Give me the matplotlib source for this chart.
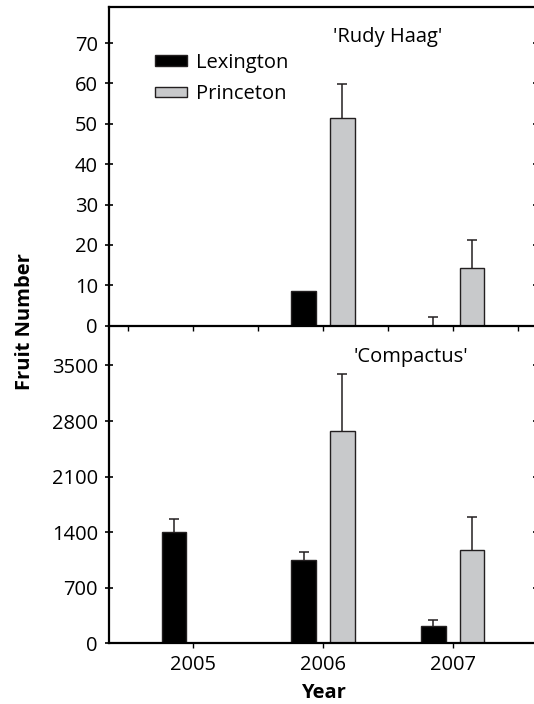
import numpy as np
import matplotlib
matplotlib.use("Agg")
import matplotlib.pyplot as plt

# ---- data ----
years = ["2005", "2006", "2007"]
sites = ["Lexington", "Princeton"]

rudy_lex = [0, 8.6, 0]
rudy_lex_err = [np.nan, np.nan, 2.2]
rudy_pri = [0, 51.5, 14.2]
rudy_pri_err = [np.nan, 8.4, 7.1]

comp_lex = [1405, 1049, 222]
comp_lex_err = [164, 97, 71]
comp_pri = [0, 2673, 1178]
comp_pri_err = [np.nan, 721, 412]

rudy_ticks = [0, 10, 20, 30, 40, 50, 60, 70]
comp_ticks = [0, 700, 1400, 2100, 2800, 3500]

FS = 14.5
plt.rcParams["font.family"] = ["Open Sans", "DejaVu Sans"]
plt.rcParams["font.size"] = FS

LEX_COLOR = "#000000"
PRI_COLOR = "#c8c9cb"
EDGE = "#231f20"
BAR_W = 0.19
OFFSET = 0.15


def draw_panel(ax, lex, lex_err, pri, pri_err):
    x = np.arange(len(years))
    ax.bar(x - OFFSET, lex, BAR_W, color=LEX_COLOR, edgecolor=EDGE,
           linewidth=1.0, label=sites[0], zorder=2)
    ax.bar(x + OFFSET, pri, BAR_W, color=PRI_COLOR, edgecolor=EDGE,
           linewidth=1.0, label=sites[1], zorder=2)
    for xs, vals, errs in [(x - OFFSET, lex, lex_err), (x + OFFSET, pri, pri_err)]:
        errs = np.asarray(errs, dtype=float)
        cont = ax.errorbar(xs, vals, yerr=[np.zeros_like(errs), errs], fmt="none",
                           ecolor=EDGE, elinewidth=1.1, capsize=3.4,
                           capthick=1.1, zorder=1)
        cont[1][0].set_visible(False)  # one-sided bars: hide lower caps
    ax.set_xlim(-0.65, 2.65)
    for side in ["left", "right", "top", "bottom"]:
        ax.spines[side].set_linewidth(1.6)
    ax.tick_params(axis="y", which="both", direction="inout", length=6,
                   width=1.2, pad=5, right=True, labelsize=FS)


fig = plt.figure(figsize=(5.34, 7.04), dpi=100)
ax_bot = fig.add_axes([0.2041, 0.0862, 0.8015, 0.4511])
ax_top = fig.add_axes([0.2041, 0.5374, 0.8015, 0.4531])
ax_bot.patch.set_visible(False)

# top panel: 'Rudy Haag'
draw_panel(ax_top, rudy_lex, rudy_lex_err, rudy_pri, rudy_pri_err)
ax_top.set_ylim(0, 79)
ax_top.set_yticks(rudy_ticks)
ax_top.set_xticks(np.arange(-0.5, 2.51, 0.5))
ax_top.tick_params(axis="x", direction="out", length=3.5, width=1.0,
                   labelbottom=False)
ax_top.text(1.5, 71.6, "'Rudy Haag'", ha="center", va="center", fontsize=FS)
ax_top.legend(loc="upper left", bbox_to_anchor=(0.088, 0.88), frameon=False,
              handlelength=1.6, handleheight=0.45, handletextpad=0.45,
              labelspacing=0.55, fontsize=FS, borderaxespad=0)

# bottom panel: 'Compactus'
draw_panel(ax_bot, comp_lex, comp_lex_err, comp_pri, comp_pri_err)
ax_bot.set_ylim(0, 4000)
ax_bot.set_yticks(comp_ticks)
ax_bot.spines["top"].set_visible(False)
ax_bot.set_xticks(np.arange(len(years)))
ax_bot.set_xticklabels(years)
ax_bot.tick_params(axis="x", direction="out", length=3.5, width=1.0,
                   pad=5, labelsize=FS)
ax_bot.text(1.68, 3605, "'Compactus'", ha="center", va="center", fontsize=FS)
ax_bot.set_xlabel("Year", fontweight="bold", fontsize=FS, labelpad=6)

fig.text(25 / 534, 1 - 322 / 704, "Fruit Number", rotation=90, ha="center",
         va="center", fontweight="bold", fontsize=FS)

fig.savefig("out.png", dpi=100)
